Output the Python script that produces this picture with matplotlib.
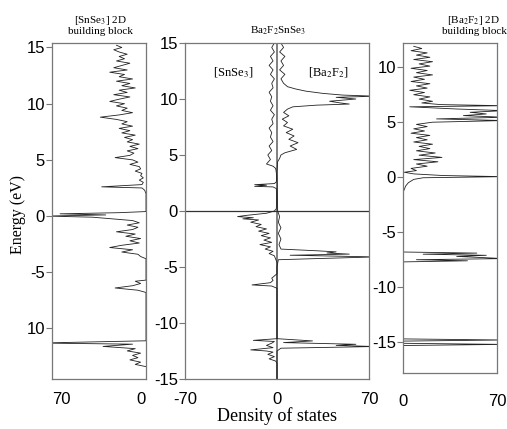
import numpy as np
import matplotlib
matplotlib.use("Agg")
import matplotlib.pyplot as plt

plt.rcParams['font.family'] = ['Liberation Sans', 'DejaVu Sans']
plt.rcParams['mathtext.fontset'] = 'stix'
plt.rcParams['axes.unicode_minus'] = False

# [SnSe3] 2D building block: energy (eV) and DOS
snse3_block_E = [15.2, 15.0, 14.8, 14.6, 14.4, 14.2, 14.0, 13.8, 13.6, 13.4, 13.2, 13.0,
                 12.8, 12.6, 12.4, 12.2, 12.0, 11.8, 11.6, 11.4, 11.2, 11.0, 10.8, 10.6,
                 10.4, 10.2, 10.0, 9.8, 9.6, 9.4, 9.2, 9.0, 8.8, 8.6, 8.4, 8.2, 8.0, 7.8,
                 7.6, 7.4, 7.2, 7.0, 6.8, 6.6, 6.4, 6.2, 6.0, 5.8, 5.6, 5.4, 5.2, 5.0, 4.8,
                 4.6, 4.4, 4.2, 4.0, 3.8, 3.6, 3.4, 3.2, 3.0, 2.8, 2.6, 2.5, 2.3, 2.0, 0.4,
                 0.3, 0.2, 0.1, 0.0, -0.1, -0.2, -0.3, -0.4, -0.6, -0.8, -1.0, -1.2, -1.4,
                 -1.6, -1.8, -2.0, -2.2, -2.4, -2.6, -2.8, -3.0, -3.2, -3.4, -3.6, -3.8,
                 -5.7, -5.8, -6.0, -6.2, -6.4, -6.6, -6.8, -11.1, -11.3, -11.4, -11.6,
                 -11.8, -12.0, -12.2, -12.4, -12.6, -12.8, -13.0, -13.2, -13.4]
snse3_block_dos = [22, 18, 24, 20, 14, 20, 16, 22, 12, 18, 24, 14,
                   27, 16, 20, 10, 22, 12, 18, 8, 20, 14, 24, 12,
                   20, 27, 16, 22, 14, 18, 10, 20, 34, 22, 14, 18, 10, 20,
                   12, 18, 8, 16, 10, 14, 5, 12, 6, 14, 9, 12, 23, 10, 6,
                   12, 5, 4, 8, 3, 4, 2, 5, 2, 3, 33, 3, 1, 0, 0,
                   20, 64, 30, 75, 40, 30, 20, 10, 5, 14, 6, 10, 22,
                   8, 15, 4, 12, 5, 18, 27, 10, 18, 6, 4, 0,
                   0, 8, 4, 10, 23, 6, 0, 0, 80, 10, 32,
                   8, 14, 4, 10, 6, 12, 4, 8, 0]

# Ba2F2SnSe3: [SnSe3] part (drawn to the left)
mid_snse3_E = [15.0, 14.6, 14.2, 13.8, 13.4, 13.0, 12.6, 12.2, 11.8, 11.4, 11.0, 10.6,
               10.2, 9.8, 9.4, 9.0, 8.6, 8.2, 7.8, 7.4, 7.0, 6.6, 6.2, 5.8, 5.4, 5.0,
               4.6, 4.2, 4.0, 3.8, 3.4, 3.0, 2.6, 2.45, 2.35, 2.3, 2.2, 2.15, 2.0, 1.0,
               0.2, 0.0, -0.2, -0.4, -0.5, -0.6, -0.7, -0.8, -1.0, -1.2, -1.4, -1.6,
               -1.8, -2.0, -2.2, -2.4, -2.6, -2.8, -3.0, -3.2, -3.4, -3.6, -3.8, -4.0,
               -4.3, -4.6, -5.6, -5.8, -6.0, -6.2, -6.4, -6.6, -6.7, -6.9, -11.4,
               -11.55, -11.65, -11.8, -12.0, -12.2, -12.4, -12.5, -12.6, -12.8, -13.0,
               -13.2, -13.4, -13.6, -15.0]
mid_snse3_dos = [2, 4, 2, 5, 3, 6, 3, 5, 2, 4, 3, 6,
                 4, 5, 3, 5, 2, 4, 3, 6, 4, 5, 3, 6, 4, 7,
                 5, 8, 3, 1, 0.5, 0.3, 0.5, 2, 17, 8, 17, 3, 0.5, 0.3,
                 0.5, 2, 8, 24, 30, 18, 26, 14, 20, 12, 16, 8,
                 14, 6, 12, 5, 10, 4, 13, 5, 9, 3, 6, 2,
                 1, 0, 0, 2, 4, 3, 5, 19, 4, 0, 0,
                 18, 2, 4, 8, 3, 20, 8, 3, 7, 2,
                 6, 1, 0, 0]

# Ba2F2SnSe3: [Ba2F2] part (drawn to the right)
mid_ba2f2_E = [15.0, 14.6, 14.2, 13.8, 13.4, 13.0, 12.6, 12.2, 11.8, 11.4, 11.1, 10.9,
               10.7, 10.5, 10.35, 10.25, 10.15, 10.0, 9.8, 9.65, 9.55, 9.45, 9.3, 9.1,
               8.8, 8.5, 8.2, 7.9, 7.6, 7.3, 7.0, 6.7, 6.4, 6.1, 5.8, 5.5, 5.2, 5.0,
               4.7, 4.4, 3.5, 0.0, -0.5, -1.0, -1.5, -2.0, -2.5, -3.0, -3.4, -3.55,
               -3.65, -3.75, -3.85, -3.95, -4.1, -4.25, -4.35, -5.0, -11.4, -11.6,
               -11.75, -11.9, -12.0, -12.1, -12.25, -12.5, -15.0]
mid_ba2f2_dos = [3, 5, 2, 6, 3, 5, 2, 6, 3, 5, 8, 14,
                 22, 35, 50, 75, 45, 60, 40, 48, 55, 30, 12, 8,
                 5, 9, 4, 8, 5, 12, 7, 13, 9, 16, 10, 15, 6, 3,
                 2, 0.5, 0, 0.5, 2, 1, 3, 1, 3, 1.5, 3, 30,
                 45, 38, 55, 10, 75, 30, 1, 0, 0, 27,
                 5, 60, 45, 75, 3, 0, 0]

# [Ba2F2] 2D building block
ba2f2_block_E = [11.9, 11.7, 11.5, 11.3, 11.1, 10.9, 10.7, 10.5, 10.3, 10.1, 9.9, 9.7,
                 9.5, 9.3, 9.1, 8.9, 8.7, 8.5, 8.3, 8.1, 7.9, 7.7, 7.5, 7.3, 7.1, 6.9,
                 6.75, 6.6, 6.5, 6.4, 6.2, 6.05, 5.9, 5.75, 5.6, 5.45, 5.3, 5.15, 5.0,
                 4.8, 4.6, 4.4, 4.2, 4.0, 3.8, 3.6, 3.4, 3.2, 3.0, 2.8, 2.6, 2.4, 2.2,
                 2.0, 1.8, 1.6, 1.4, 1.2, 1.0, 0.8, 0.6, 0.45, 0.3, 0.15, 0.05, -0.05,
                 -0.2, -0.5, -0.8, -1.1, -1.4, -6.8, -6.9, -7.0, -7.1, -7.2, -7.3,
                 -7.4, -7.5, -7.6, -7.7, -14.7, -14.8, -14.9, -15.1, -15.2, -15.3, -17.8]
ba2f2_block_dos = [8, 14, 6, 18, 10, 20, 8, 22, 12, 20, 6, 18,
                   10, 22, 8, 16, 6, 20, 10, 18, 5, 16, 8, 20, 12, 22,
                   14, 28, 75, 5, 40, 75, 50, 62, 45, 75, 25, 75, 22,
                   10, 18, 8, 16, 6, 20, 10, 18, 8, 22, 12, 20, 10, 24,
                   12, 29, 8, 26, 10, 18, 6, 10, 1, 8, 30, 75, 15,
                   8, 4, 2, 1, 0, 0, 55, 15, 62, 40, 58,
                   75, 10, 48, 0, 0, 75, 0, 0, 75, 0, 0]

W, H = 507, 429
fig = plt.figure(figsize=(W / 100, H / 100), dpi=100)

def box(x0, y0, x1, y1):
    return [x0 / W, 1 - y1 / H, (x1 - x0) / W, (y1 - y0) / H]

ax1 = fig.add_axes(box(52, 43, 146, 379))
ax2 = fig.add_axes(box(185, 43, 369, 379))
ax3 = fig.add_axes(box(403, 43, 497, 373))

line_kw = dict(color='#222222', lw=0.6)
ax1.plot(snse3_block_dos, snse3_block_E, **line_kw)
ax2.axvline(0, color='#808080', lw=1.4, zorder=1)
ax2.axhline(0, color='#333333', lw=0.9, zorder=1)
ax2.plot(-np.array(mid_snse3_dos), mid_snse3_E, **line_kw)
ax2.plot(mid_ba2f2_dos, mid_ba2f2_E, **line_kw)
ax3.plot(ba2f2_block_dos, ba2f2_block_E, **line_kw)

ax1.set_xlim(70, 0)
ax1.set_ylim(-14.5, 15.4)
ax1.set_xticks([70, 0])
ax1.set_xticklabels(['70', '0'])
ax1.set_yticks([15, 10, 5, 0, -5, -10])
ax1.set_yticklabels(['15', '10', '5', '0', '-5', '10'])
ax1.get_xticklabels()[0].set_ha('left')
ax1.get_xticklabels()[1].set_ha('right')

ax2.set_xlim(-70, 70)
ax2.set_ylim(-15, 15)
ax2.set_xticks([-70, 0, 70])
ax2.set_xticklabels(['-70', '0', '70'])
ax2.set_yticks([15, 10, 5, 0, -5, -10, -15])

ax3.set_xlim(0, 70)
ax3.set_ylim(-17.8, 12.2)
ax3.set_xticks([0, 70])
ax3.set_xticklabels(['0', '70'])
ax3.set_yticks([10, 5, 0, -5, -10, -15])

for ax in (ax1, ax2, ax3):
    for s in ax.spines.values():
        s.set_color('#777777')
        s.set_linewidth(0.9)
    ax.tick_params(axis='y', direction='out', length=4, width=0.8, color='#777777',
                   labelsize=12, pad=1)
    ax.tick_params(axis='x', length=0, labelsize=12, pad=9)
ax3.tick_params(axis='x', pad=15)

serif = ['Liberation Serif', 'DejaVu Serif']
fig.text(100 / W, 1 - 25 / H, '[SnSe$_3$] 2D\nbuilding block', ha='center', va='center',
         fontsize=8, family=serif, linespacing=1.1)
fig.text(278 / W, 1 - 31 / H, 'Ba$_2$F$_2$SnSe$_3$', ha='center', va='center',
         fontsize=8, family=serif)
fig.text(233 / W, 1 - 73 / H, '[SnSe$_3$]', ha='center', va='center', fontsize=9,
         family=serif)
fig.text(328 / W, 1 - 73 / H, '[Ba$_2$F$_2$]', ha='center', va='center', fontsize=9,
         family=serif)
fig.text(474 / W, 1 - 25 / H, '[Ba$_2$F$_2$] 2D\nbuilding block', ha='center', va='center',
         fontsize=8, family=serif, linespacing=1.1)
fig.text(18 / W, 1 - 214 / H, 'Energy (eV)', rotation=90, ha='center', va='center',
         fontsize=11.5, family=serif)
fig.text(277 / W, 1 - 416 / H, 'Density of states', ha='center', va='center',
         fontsize=13, family=serif)

fig.savefig('out.png', dpi=100)
